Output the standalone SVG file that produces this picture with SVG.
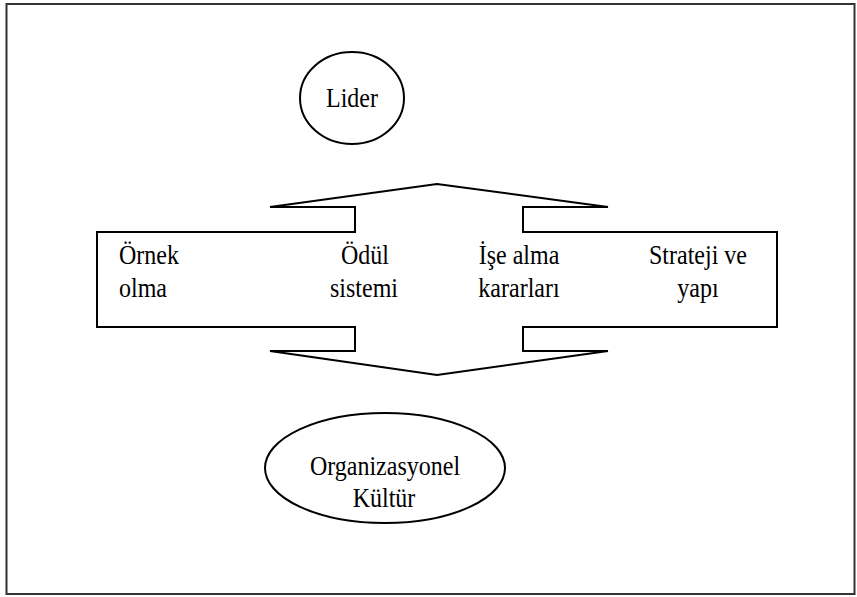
<svg xmlns="http://www.w3.org/2000/svg" width="857" height="597" viewBox="0 0 857 597">
  <style>
    .shape { fill: #ffffff; stroke: #000000; stroke-width: 2; }
    .lbl { font-family: "Liberation Serif", "Times New Roman", serif; font-size: 24px; fill: #000000; }
    .mid { text-anchor: middle; }
  </style>
  <rect x="0" y="0" width="857" height="597" fill="#ffffff"/>
  <!-- outer frame -->
  <rect x="6.5" y="4" width="848" height="590" fill="none" stroke="#333333" stroke-width="2"/>

  <g id="lider">
    <ellipse class="shape" cx="352" cy="98" rx="52" ry="46"/>
    <text class="lbl mid" transform="translate(352,107) scale(1,1.15)">Lider</text>
  </g>

  <g id="connectors">
    <!-- double-headed block arrow framing the four means -->
    <path class="shape" d="M437,184 L608,207 L523,207 L523,232 L777,232 L777,327 L523,327 L523,351 L608,351 L437,375 L270,351 L355,351 L355,327 L97,327 L97,232 L355,232 L355,207 L270,207 Z"/>
  </g>

  <g id="ornek-olma">
    <text class="lbl" transform="translate(119,264) scale(1,1.15)">Örnek</text>
    <text class="lbl" transform="translate(119,297) scale(1,1.15)">olma</text>
  </g>
  <g id="odul-sistemi">
    <text class="lbl mid" transform="translate(365,264) scale(1,1.15)">Ödül</text>
    <text class="lbl mid" transform="translate(364,297) scale(1,1.15)">sistemi</text>
  </g>
  <g id="ise-alma">
    <text class="lbl mid" transform="translate(519,264) scale(1,1.15)">İşe alma</text>
    <text class="lbl mid" transform="translate(519,297) scale(1,1.15)">kararları</text>
  </g>
  <g id="strateji">
    <text class="lbl mid" transform="translate(698,264) scale(1,1.15)">Strateji ve</text>
    <text class="lbl mid" transform="translate(698,297) scale(1,1.15)">yapı</text>
  </g>

  <g id="kultur">
    <ellipse class="shape" cx="385" cy="468" rx="120" ry="55"/>
    <text class="lbl mid" transform="translate(385,475) scale(1,1.15)">Organizasyonel</text>
    <text class="lbl mid" transform="translate(384,507) scale(1,1.15)">Kültür</text>
  </g>
</svg>
